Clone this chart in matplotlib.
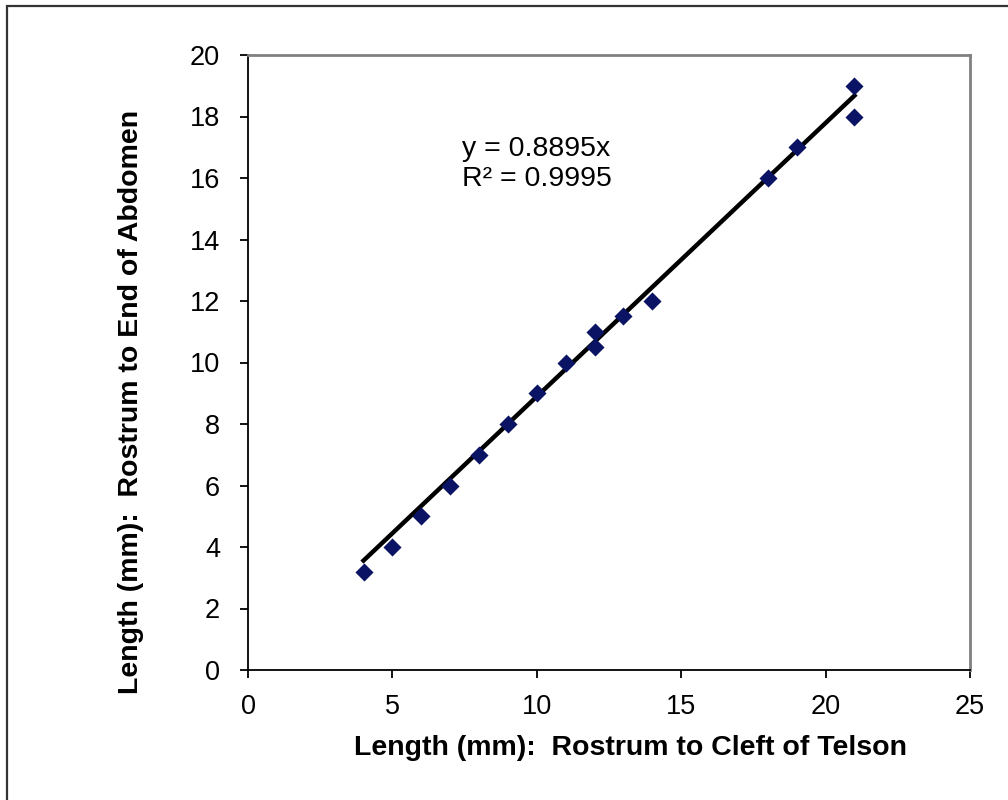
import numpy as np
import matplotlib.pyplot as plt
from matplotlib.patches import Rectangle

# data
rostrum_telson = [4, 5, 6, 7, 8, 9, 10, 11, 12, 12, 13, 14, 18, 19, 21, 21]
rostrum_abdomen = [3.2, 4, 5, 6, 7, 8, 9, 10, 10.5, 11, 11.5, 12, 16, 17, 19, 18]
slope = 0.8895
r2 = 0.9995

plt.rcParams['font.family'] = ['Liberation Sans', 'DejaVu Sans']

fig = plt.figure(figsize=(10.08, 8), dpi=100)
ax = fig.add_axes([248/1008, 130/800, 722/1008, 615/800])

# outer frame (only top and left edges visible in the crop)
fig.patches.append(Rectangle((7/1008, -0.05), 1.2, (800-6)/800 + 0.05,
                             transform=fig.transFigure, fill=False,
                             edgecolor='#333333', linewidth=1.6))

x = np.array(rostrum_telson)
y = np.array(rostrum_abdomen)
ax.scatter(x, y, marker='D', s=85, color='#0b1464', zorder=3, linewidths=0)

xs = np.array([x.min(), x.max()])
ax.plot(xs, slope * xs, color='black', linewidth=3.2, zorder=2)

ax.text(0.296, 0.822, f"y = {slope}x\nR² = {r2}", transform=ax.transAxes,
        fontsize=20.5, linespacing=1.2, va='center', ha='left')

ax.set_xlim(0, 25)
ax.set_ylim(0, 20)
ax.set_xticks(np.arange(0, 26, 5))
ax.set_yticks(np.arange(0, 21, 2))
ax.tick_params(direction='out', length=6, width=1.3, labelsize=19.5)
ax.tick_params(axis='y', pad=14)
ax.tick_params(axis='x', pad=11)

for s in ['top', 'right']:
    ax.spines[s].set_color('#808080')
    ax.spines[s].set_linewidth(2)
for s in ['left', 'bottom']:
    ax.spines[s].set_color('black')
    ax.spines[s].set_linewidth(1.3)

ax.set_xlabel('Length (mm):  Rostrum to Cleft of Telson', fontsize=20.5,
              fontweight='bold', va='center')
ax.set_ylabel('Length (mm):  Rostrum to End of Abdomen', fontsize=20.5,
              fontweight='bold', va='center')
ax.xaxis.set_label_coords((630 - 248) / 722, (670 - 748) / 615)
ax.yaxis.set_label_coords((131 - 248) / 722, (670 - 402) / 615)

fig.savefig('out.png', dpi=100)
